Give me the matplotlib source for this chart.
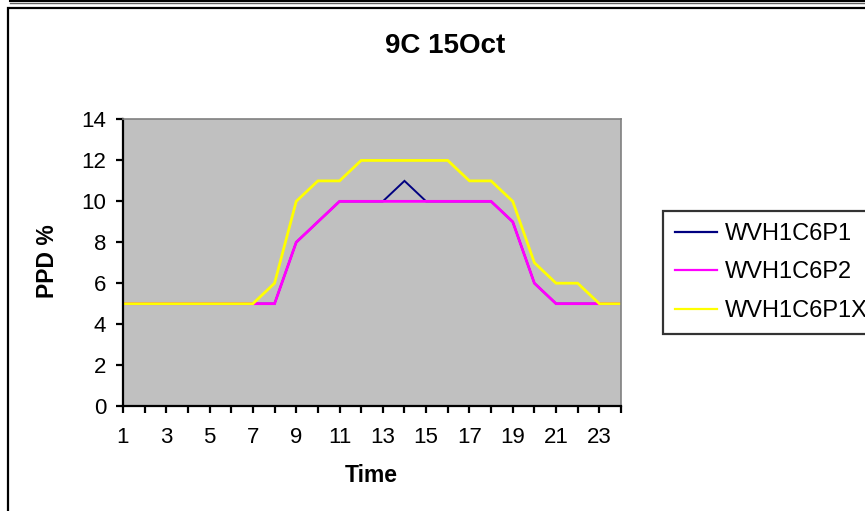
import matplotlib
matplotlib.use("Agg")
import matplotlib.pyplot as plt
from matplotlib.lines import Line2D
from matplotlib.patches import Rectangle

plt.rcParams['font.family'] = ['Liberation Sans', 'DejaVu Sans']

# Hourly PPD values (hours 1..24)
hours = list(range(1, 25))
wvh1c6p1 = [5, 5, 5, 5, 5, 5, 5, 5, 8, 9, 10, 10, 10, 11, 10, 10, 10, 10, 9, 6, 5, 5, 5, 5]
wvh1c6p2 = [5, 5, 5, 5, 5, 5, 5, 5, 8, 9, 10, 10, 10, 10, 10, 10, 10, 10, 9, 6, 5, 5, 5, 5]
wvh1c6p1x = [5, 5, 5, 5, 5, 5, 5, 6, 10, 11, 11, 12, 12, 12, 12, 12, 11, 11, 10, 7, 6, 6, 5, 5]
series_names = ["WVH1C6P1", "WVH1C6P2", "WVH1C6P1X"]
series_colors = ["#000080", "#FF00FF", "#FFFF00"]
y_ticks = [0, 2, 4, 6, 8, 10, 12, 14]
x_labels = [str(h) if h % 2 == 1 else "" for h in hours]

W, H = 865, 511
fig = plt.figure(figsize=(W / 100, H / 100), dpi=100)
fig.patch.set_facecolor("white")

# chart frame lines
fig.add_artist(Line2D([10 / W, 1], [1 - 1 / H, 1 - 1 / H], color="black", lw=1.5, transform=fig.transFigure))
fig.add_artist(Line2D([10 / W, 1], [1 - 3.5 / H, 1 - 3.5 / H], color="#606060", lw=1.0, transform=fig.transFigure))
fig.add_artist(Rectangle((8 / W, -0.1), 1.2, 1 - 8 / H + 0.1, fill=False, edgecolor="black",
                         lw=1.6, transform=fig.transFigure))

ax = fig.add_axes([123 / W, 1 - 406 / H, (621 - 123) / W, (406 - 119.5) / H])
ax.set_facecolor("#C0C0C0")

data = [wvh1c6p1, wvh1c6p2, wvh1c6p1x]
widths = [1.4, 2.0, 2.0]
for vals, name, col, lw in zip(data, series_names, series_colors, widths):
    ax.plot(hours, vals, color=col, lw=lw, label=name, solid_joinstyle="miter")

ax.set_xlim(1, 24)
ax.set_ylim(0, 14)
ax.set_yticks(y_ticks)
ax.set_xticks(hours)
ax.set_xticklabels(x_labels)

for side in ["top", "right"]:
    ax.spines[side].set_color("#808080")
    ax.spines[side].set_linewidth(1.2)
for side in ["left", "bottom"]:
    ax.spines[side].set_color("black")
    ax.spines[side].set_linewidth(1.6)

ax.tick_params(axis="both", direction="out", length=5, width=1.6, color="black",
               labelsize=16, labelcolor="black")
ax.tick_params(axis="y", pad=7)
ax.tick_params(axis="x", pad=10)

fig.text(445 / W, 1 - 46 / H, "9C 15Oct", ha="center", va="center", fontsize=20, fontweight="bold")
fig.text(48 / W, 1 - 261 / H, "PPD %", ha="center", va="center", rotation=90, fontsize=16.5, fontweight="bold")
fig.text(371 / W, 1 - 476 / H, "Time", ha="center", va="center", fontsize=16.5, fontweight="bold")

leg = ax.legend(loc="upper left", bbox_to_anchor=(663 / W, 1 - 211 / H), bbox_transform=fig.transFigure,
                fontsize=17, frameon=True, fancybox=False, shadow=False, handlelength=1.8,
                handletextpad=0.32, labelspacing=0.7, borderpad=0.5, borderaxespad=0)
leg.get_frame().set_edgecolor("black")
leg.get_frame().set_linewidth(1.6)
for lh in leg.get_lines():
    lh.set_linewidth(1.6)

fig.savefig("out.png", dpi=100)
